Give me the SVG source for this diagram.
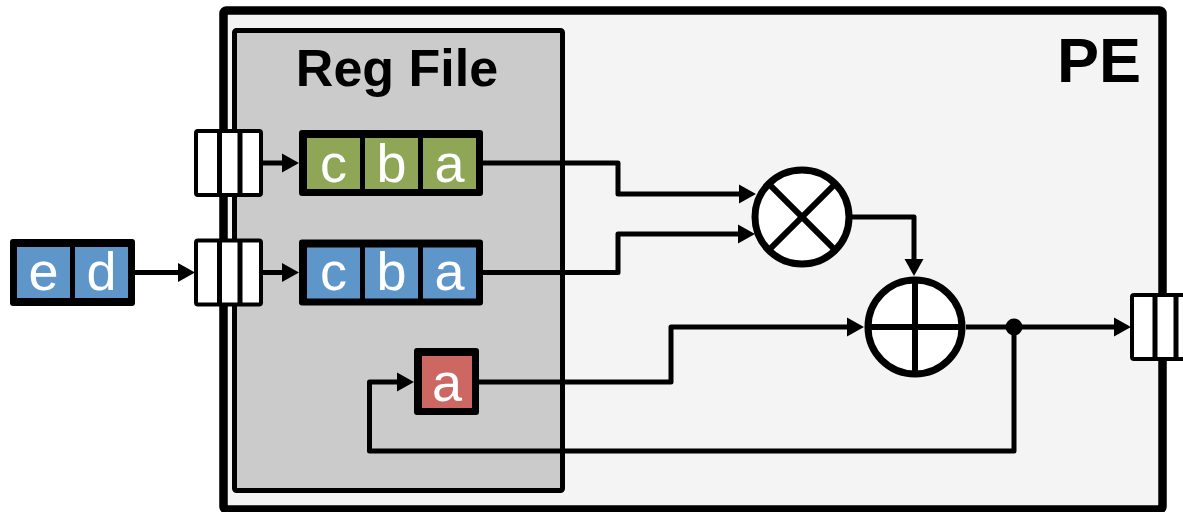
<svg xmlns="http://www.w3.org/2000/svg" width="1183" height="512" viewBox="0 0 1183 512">
<style>
.lbl{font-family:"Liberation Sans",Arial,sans-serif;font-weight:bold;fill:#000}
.reg{fill:#000}
.cellG{fill:#8fa657}
.cellB{fill:#5f96ca}
.cellR{fill:#cd6761}
.ch{font-family:"Liberation Sans",Arial,sans-serif;font-size:54px;fill:#fff;text-anchor:middle}
.fifo{fill:#fff;stroke:#000;stroke-width:4}
.div{stroke:#000;stroke-width:5}
.wire{fill:none;stroke:#000;stroke-width:5;stroke-linejoin:round}
.op{fill:#fff;stroke:#000;stroke-width:7}
.opl{stroke:#000;stroke-width:6}
</style>
<defs>
<marker id="arr" markerUnits="userSpaceOnUse" markerWidth="17" markerHeight="19" refX="0" refY="9.5" orient="auto" overflow="visible">
<path d="M0,0 L17,9.5 L0,19 z" fill="#000"/>
</marker>
</defs>
<g id="pe">
<rect x="223.5" y="10.5" width="939" height="499" rx="3" fill="#f4f4f4" stroke="#000" stroke-width="8.5"/>
<text class="lbl" x="1141" y="82" font-size="63" text-anchor="end">PE</text>
</g>
<g id="regfile">
<rect x="234.5" y="30.5" width="328" height="460" rx="2" fill="#cbcbcb" stroke="#000" stroke-width="5"/>
<text class="lbl" x="397" y="86" font-size="52" text-anchor="middle">Reg File</text>
</g>
<g id="connectors">
<path class="wire" d="M135,272.5 H178" marker-end="url(#arr)"/>
<path class="wire" d="M263,163 H282" marker-end="url(#arr)"/>
<path class="wire" d="M263,272.5 H282" marker-end="url(#arr)"/>
<path class="wire" d="M483,163 H618 V194 H739" marker-end="url(#arr)"/>
<path class="wire" d="M483,272.5 H618 V234 H738" marker-end="url(#arr)"/>
<path class="wire" d="M852,217 H914 V259" marker-end="url(#arr)"/>
<path class="wire" d="M479,382 H671 V327 H847" marker-end="url(#arr)"/>
<path class="wire" d="M966,327 H1114" marker-end="url(#arr)"/>
<path class="wire" d="M1014,327 V451 H369.5 V382 H397" marker-end="url(#arr)"/>
<circle cx="1014" cy="327" r="8.5" fill="#000"/>
</g>
<g id="reg-ed">
<rect class="reg" x="10" y="239" width="125" height="67" rx="3"/>
<rect class="cellB" x="17" y="247" width="53" height="51"/>
<rect class="cellB" x="75" y="247" width="53" height="51"/>
<text class="ch" x="43.5" y="290">e</text>
<text class="ch" x="101.5" y="290">d</text>
</g>
<g id="fifo-in1">
<rect class="fifo" x="196" y="131" width="65" height="64" rx="2"/>
<line class="div" x1="219.5" y1="131" x2="219.5" y2="195"/>
<line class="div" x1="240" y1="131" x2="240" y2="195"/>
</g>
<g id="fifo-in2">
<rect class="fifo" x="196" y="240.5" width="65" height="64" rx="2"/>
<line class="div" x1="219.5" y1="240.5" x2="219.5" y2="304.5"/>
<line class="div" x1="240" y1="240.5" x2="240" y2="304.5"/>
</g>
<g id="reg-green">
<rect class="reg" x="299" y="130" width="184" height="66" rx="3"/>
<rect class="cellG" x="307" y="138" width="53" height="51"/>
<rect class="cellG" x="365" y="138" width="53" height="51"/>
<rect class="cellG" x="423" y="138" width="53" height="51"/>
<text class="ch" x="333.5" y="182">c</text>
<text class="ch" x="391.5" y="182">b</text>
<text class="ch" x="449.5" y="182">a</text>
</g>
<g id="reg-blue">
<rect class="reg" x="299" y="239.5" width="184" height="66" rx="3"/>
<rect class="cellB" x="307" y="247.5" width="53" height="51"/>
<rect class="cellB" x="365" y="247.5" width="53" height="51"/>
<rect class="cellB" x="423" y="247.5" width="53" height="51"/>
<text class="ch" x="333.5" y="290">c</text>
<text class="ch" x="391.5" y="290">b</text>
<text class="ch" x="449.5" y="290">a</text>
</g>
<g id="reg-red">
<rect class="reg" x="414" y="348" width="65" height="67" rx="3"/>
<rect class="cellR" x="422" y="356" width="50" height="52"/>
<text class="ch" x="447" y="401" font-size="50">a</text>
</g>
<g id="mult">
<circle class="op" cx="802" cy="217" r="47"/>
<line class="opl" x1="768.8" y1="183.8" x2="835.2" y2="250.2"/>
<line class="opl" x1="835.2" y1="183.8" x2="768.8" y2="250.2"/>
</g>
<g id="adder">
<circle class="op" cx="915" cy="327" r="47"/>
<line class="opl" x1="868" y1="327" x2="962" y2="327"/>
<line class="opl" x1="915" y1="280" x2="915" y2="374"/>
</g>
<g id="fifo-out">
<rect class="fifo" x="1132" y="295" width="65" height="64" rx="2"/>
<line class="div" x1="1155" y1="295" x2="1155" y2="359"/>
<line class="div" x1="1176" y1="295" x2="1176" y2="359"/>
</g>
</svg>
